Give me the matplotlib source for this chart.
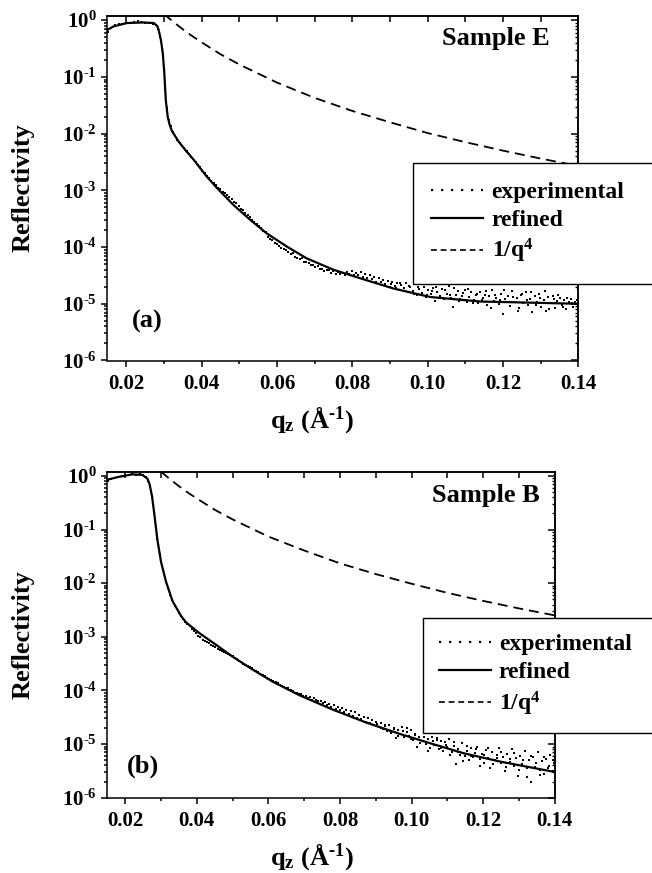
import numpy as np
import matplotlib
matplotlib.use("Agg")
import matplotlib.pyplot as plt
from matplotlib.lines import Line2D
from matplotlib.ticker import FixedLocator, FuncFormatter, FormatStrFormatter, NullFormatter, LogLocator

plt.rcParams['font.family'] = ['Liberation Serif', 'DejaVu Serif']
plt.rcParams['font.weight'] = 'bold'
plt.rcParams['mathtext.fontset'] = 'custom'
plt.rcParams['mathtext.rm'] = 'Liberation Serif:bold'
plt.rcParams['mathtext.bf'] = 'Liberation Serif:bold'
plt.rcParams['mathtext.it'] = 'Liberation Serif:bold:italic'
plt.rcParams['mathtext.default'] = 'bf'

# ---------------- data (log10 reflectivity) ----------------
# Sample E: refined model
refE_q = [0.0150, 0.0166, 0.0202, 0.0246, 0.0273, 0.0282, 0.0286, 0.0292, 0.0297, 0.0301,
          0.0305, 0.0310, 0.0315, 0.0321, 0.0339, 0.0357, 0.0379, 0.0414, 0.0441, 0.0485,
          0.0529, 0.0573, 0.0626, 0.0679, 0.0750, 0.0821, 0.0909, 0.1006, 0.1139, 0.1272, 0.1400]
refE_logR = [-0.17, -0.11, -0.05, -0.04, -0.05, -0.10, -0.17, -0.35, -0.58, -0.93,
             -1.41, -1.70, -1.84, -1.95, -2.14, -2.29, -2.46, -2.76, -2.96, -3.26,
             -3.52, -3.76, -3.99, -4.20, -4.40, -4.55, -4.73, -4.88, -4.96, -4.98, -5.00]

# Sample E: 1/q^4 reference
q4E_q = [0.0300, 0.0325, 0.0350, 0.0375, 0.040, 0.045, 0.050, 0.060, 0.070, 0.080, 0.090,
         0.100, 0.110, 0.120, 0.130, 0.140]
q4E_logR = [0.11, -0.03, -0.16, -0.28, -0.39, -0.60, -0.78, -1.10, -1.37, -1.60, -1.80,
            -1.99, -2.15, -2.30, -2.44, -2.57]

# Sample E: experimental points (q, log10 R)
expE_points = [
    (0.0152, -0.20), (0.0160, -0.13), (0.0170, -0.09), (0.0180, -0.07), (0.0190, -0.06),
    (0.0200, -0.05), (0.0210, -0.05), (0.0220, -0.04), (0.0230, -0.02), (0.0240, -0.04),
    (0.0250, -0.05), (0.0260, -0.05), (0.0270, -0.06), (0.0278, -0.08), (0.0285, -0.16),
    (0.0290, -0.30), (0.0295, -0.50), (0.0300, -0.82), (0.0304, -1.22), (0.0308, -1.55),
    (0.0313, -1.76), (0.0318, -1.86), (0.0324, -1.98), (0.0330, -2.04), (0.0336, -2.12),
    (0.0342, -2.17), (0.0348, -2.22), (0.0354, -2.26), (0.0360, -2.31), (0.0366, -2.36),
    (0.0372, -2.41), (0.0378, -2.45), (0.0384, -2.50), (0.0390, -2.55), (0.0396, -2.58),
    (0.0402, -2.66), (0.0408, -2.70), (0.0414, -2.74), (0.0420, -2.79), (0.0426, -2.83),
    (0.0432, -2.87), (0.0438, -2.90), (0.0444, -2.95), (0.0450, -2.97), (0.0456, -3.03),
    (0.0462, -3.05), (0.0468, -3.09), (0.0474, -3.12), (0.0480, -3.16), (0.0486, -3.21),
    (0.0492, -3.22), (0.0498, -3.28), (0.0504, -3.33), (0.0510, -3.35), (0.0516, -3.40),
    (0.0522, -3.44), (0.0528, -3.47), (0.0534, -3.53), (0.0540, -3.55), (0.0546, -3.60),
    (0.0552, -3.63), (0.0558, -3.67), (0.0564, -3.72), (0.0570, -3.73), (0.0576, -3.82),
    (0.0582, -3.86), (0.0588, -3.88), (0.0594, -3.93), (0.0600, -3.94), (0.0606, -3.99),
    (0.0612, -4.01), (0.0618, -4.04), (0.0624, -4.06), (0.0630, -4.08), (0.0636, -4.12),
    (0.0642, -4.11), (0.0648, -4.17), (0.0654, -4.19), (0.0660, -4.21), (0.0666, -4.20),
    (0.0672, -4.26), (0.0678, -4.27), (0.0684, -4.28), (0.0690, -4.31), (0.0696, -4.32),
    (0.0702, -4.36), (0.0708, -4.34), (0.0714, -4.39), (0.0720, -4.38), (0.0726, -4.42),
    (0.0732, -4.40), (0.0738, -4.41), (0.0744, -4.45), (0.0750, -4.43), (0.0756, -4.47),
    (0.0762, -4.44), (0.0768, -4.48), (0.0774, -4.46), (0.0780, -4.50), (0.0786, -4.44),
    (0.0792, -4.47), (0.0798, -4.43), (0.0804, -4.49), (0.0810, -4.45), (0.0816, -4.50),
    (0.0822, -4.44), (0.0828, -4.52), (0.0834, -4.48), (0.0840, -4.55), (0.0846, -4.50),
    (0.0852, -4.57), (0.0858, -4.53), (0.0864, -4.61), (0.0870, -4.55), (0.0876, -4.62),
    (0.0882, -4.58), (0.0888, -4.66), (0.0894, -4.60), (0.0900, -4.70), (0.0906, -4.62),
    (0.0912, -4.69), (0.0918, -4.64), (0.0924, -4.75), (0.0930, -4.67), (0.0936, -4.72),
    (0.0942, -4.63), (0.0948, -4.80), (0.0954, -4.70), (0.0960, -4.77), (0.0966, -4.66),
    (0.0972, -4.85), (0.0978, -4.74), (0.0984, -4.81), (0.0990, -4.70), (0.0996, -4.88),
    (0.1002, -4.76), (0.1008, -4.83), (0.1014, -4.72), (0.1020, -4.95), (0.1026, -4.80),
    (0.1032, -4.86), (0.1038, -4.74), (0.1044, -4.91), (0.1050, -4.82), (0.1056, -4.68),
    (0.1062, -4.89), (0.1068, -5.05), (0.1074, -4.84), (0.1080, -4.78), (0.1086, -4.92),
    (0.1092, -4.86), (0.1098, -4.75), (0.1104, -4.96), (0.1110, -4.88), (0.1116, -4.80),
    (0.1122, -4.93), (0.1128, -4.85), (0.1134, -4.98), (0.1140, -4.79), (0.1146, -4.90),
    (0.1152, -4.84), (0.1158, -5.02), (0.1164, -4.87), (0.1170, -4.76), (0.1176, -4.95),
    (0.1182, -4.89), (0.1188, -5.00), (0.1194, -4.83), (0.1200, -5.18), (0.1206, -4.92),
    (0.1212, -4.86), (0.1218, -5.04), (0.1224, -4.78), (0.1230, -4.96), (0.1236, -4.90),
    (0.1242, -5.08), (0.1248, -4.85), (0.1254, -4.99), (0.1260, -4.80), (0.1266, -5.02),
    (0.1272, -4.91), (0.1278, -5.14), (0.1284, -4.87), (0.1290, -4.97), (0.1296, -4.83),
    (0.1302, -5.05), (0.1308, -4.93), (0.1314, -5.13), (0.1320, -4.88), (0.1326, -4.99),
    (0.1332, -4.86), (0.1338, -5.07), (0.1344, -4.95), (0.1350, -4.90), (0.1356, -5.03),
    (0.1362, -4.94), (0.1368, -5.10), (0.1374, -4.97), (0.1380, -4.92), (0.1386, -5.05),
    (0.1392, -4.96), (0.1398, -5.01),
    (0.0903, -4.66), (0.0915, -4.72), (0.0927, -4.63), (0.0939, -4.78), (0.0951, -4.68),
    (0.0963, -4.82), (0.0975, -4.71), (0.0987, -4.64), (0.0999, -4.84), (0.1011, -4.77),
    (0.1023, -4.70), (0.1035, -4.90), (0.1047, -4.75), (0.1059, -4.84), (0.1071, -4.72),
    (0.1083, -4.95), (0.1095, -4.81), (0.1107, -4.74), (0.1119, -4.98), (0.1131, -4.82),
    (0.1143, -4.93), (0.1155, -4.77), (0.1167, -5.08), (0.1179, -4.84), (0.1191, -4.93),
    (0.1203, -4.75), (0.1215, -4.97), (0.1227, -4.88), (0.1239, -5.12), (0.1251, -4.82),
    (0.1263, -4.94), (0.1275, -4.79), (0.1287, -5.02), (0.1299, -4.89), (0.1311, -4.78),
    (0.1323, -5.10), (0.1335, -4.92), (0.1347, -4.84), (0.1359, -5.06), (0.1371, -4.90),
    (0.1383, -4.99), (0.1395, -4.93),
]

# Sample B: refined model
refB_q = [0.0150, 0.0180, 0.0220, 0.0248, 0.0262, 0.0268, 0.0275, 0.0281, 0.0290, 0.0300,
          0.0314, 0.0332, 0.0356, 0.0370, 0.0407, 0.0454, 0.0500, 0.0556, 0.0613, 0.0687,
          0.0781, 0.0874, 0.0967, 0.1050, 0.1145, 0.1250, 0.1400]
refB_logR = [-0.07, -0.02, 0.03, 0.02, -0.05, -0.15, -0.38, -0.69, -1.19, -1.60,
             -1.97, -2.33, -2.61, -2.73, -2.93, -3.15, -3.37, -3.61, -3.84, -4.09,
             -4.36, -4.60, -4.81, -4.98, -5.17, -5.33, -5.52]

# Sample B: 1/q^4 reference
q4B_q = [0.0300, 0.0325, 0.0350, 0.0375, 0.040, 0.045, 0.050, 0.060, 0.070, 0.080, 0.090,
         0.100, 0.110, 0.120, 0.130, 0.140]
q4B_logR = [0.08, -0.06, -0.19, -0.31, -0.42, -0.63, -0.81, -1.13, -1.39, -1.63, -1.83,
            -2.01, -2.18, -2.33, -2.47, -2.60]

# Sample B: experimental points (q, log10 R)
expB_points = [
    (0.0152, -0.10), (0.0160, -0.06), (0.0170, -0.04), (0.0180, -0.02), (0.0190, 0.00),
    (0.0200, 0.01), (0.0210, 0.02), (0.0220, 0.03), (0.0230, 0.02), (0.0240, 0.03),
    (0.0250, 0.01), (0.0258, -0.02), (0.0265, -0.10), (0.0272, -0.28), (0.0278, -0.55),
    (0.0284, -0.86), (0.0290, -1.18), (0.0296, -1.45), (0.0302, -1.66), (0.0308, -1.82),
    (0.0314, -1.97), (0.0320, -2.09), (0.0326, -2.22), (0.0332, -2.32), (0.0338, -2.42),
    (0.0344, -2.49), (0.0350, -2.56), (0.0356, -2.61), (0.0362, -2.67), (0.0368, -2.72),
    (0.0374, -2.76), (0.0380, -2.79), (0.0386, -2.85), (0.0392, -2.90), (0.0398, -2.93),
    (0.0404, -2.98), (0.0410, -3.00), (0.0416, -3.05), (0.0422, -3.07), (0.0428, -3.10),
    (0.0434, -3.11), (0.0440, -3.15), (0.0446, -3.17), (0.0452, -3.19), (0.0458, -3.22),
    (0.0464, -3.24), (0.0470, -3.26), (0.0476, -3.28), (0.0482, -3.30), (0.0488, -3.32),
    (0.0494, -3.34), (0.0500, -3.36), (0.0506, -3.39), (0.0512, -3.42), (0.0518, -3.45),
    (0.0524, -3.47), (0.0530, -3.50), (0.0536, -3.52), (0.0542, -3.55), (0.0548, -3.56),
    (0.0554, -3.59), (0.0560, -3.62), (0.0566, -3.63), (0.0572, -3.66), (0.0578, -3.69),
    (0.0584, -3.71), (0.0590, -3.73), (0.0596, -3.76), (0.0602, -3.78), (0.0608, -3.81),
    (0.0614, -3.83), (0.0620, -3.84), (0.0626, -3.87), (0.0632, -3.89), (0.0638, -3.91),
    (0.0644, -3.93), (0.0650, -3.96), (0.0656, -3.96), (0.0662, -4.00), (0.0668, -4.01),
    (0.0674, -4.05), (0.0680, -4.04), (0.0686, -4.07), (0.0692, -4.06), (0.0698, -4.11),
    (0.0704, -4.10), (0.0710, -4.15), (0.0716, -4.12), (0.0722, -4.17), (0.0728, -4.15),
    (0.0734, -4.18), (0.0740, -4.20), (0.0746, -4.19), (0.0752, -4.24), (0.0758, -4.22),
    (0.0764, -4.28), (0.0770, -4.25), (0.0776, -4.31), (0.0782, -4.27), (0.0788, -4.34),
    (0.0794, -4.30), (0.0800, -4.37), (0.0806, -4.33), (0.0812, -4.40), (0.0818, -4.36),
    (0.0824, -4.44), (0.0830, -4.39), (0.0836, -4.47), (0.0842, -4.41), (0.0848, -4.52),
    (0.0854, -4.45), (0.0860, -4.54), (0.0866, -4.49), (0.0872, -4.58), (0.0878, -4.51),
    (0.0884, -4.61), (0.0890, -4.55), (0.0896, -4.64), (0.0902, -4.58), (0.0908, -4.68),
    (0.0914, -4.60), (0.0920, -4.72), (0.0926, -4.64), (0.0932, -4.75), (0.0938, -4.65),
    (0.0944, -4.80), (0.0950, -4.70), (0.0956, -4.88), (0.0962, -4.74), (0.0968, -4.82),
    (0.0974, -4.69), (0.0980, -4.86), (0.0986, -4.77), (0.0992, -4.85), (0.0998, -4.73),
    (0.1004, -4.93), (0.1010, -4.81), (0.1016, -5.05), (0.1022, -4.86), (0.1028, -4.95),
    (0.1034, -4.78), (0.1040, -5.00), (0.1046, -4.90), (0.1052, -5.08), (0.1058, -4.87),
    (0.1064, -5.02), (0.1070, -4.93), (0.1076, -5.10), (0.1082, -4.95), (0.1088, -5.13),
    (0.1094, -4.97), (0.1100, -5.06), (0.1106, -4.90), (0.1112, -5.15), (0.1118, -5.04),
    (0.1124, -5.38), (0.1130, -5.10), (0.1136, -5.20), (0.1142, -4.98), (0.1148, -5.22),
    (0.1154, -5.12), (0.1160, -5.30), (0.1166, -5.08), (0.1172, -5.24), (0.1178, -5.16),
    (0.1184, -5.05), (0.1190, -5.28), (0.1196, -5.18), (0.1202, -5.35), (0.1208, -5.11),
    (0.1214, -5.26), (0.1220, -5.45), (0.1226, -5.15), (0.1232, -5.30), (0.1238, -5.20),
    (0.1244, -5.08), (0.1250, -5.36), (0.1256, -5.24), (0.1262, -5.50), (0.1268, -5.18),
    (0.1274, -5.33), (0.1280, -5.10), (0.1286, -5.40), (0.1292, -5.26), (0.1298, -5.60),
    (0.1304, -5.22), (0.1310, -5.38), (0.1316, -5.12), (0.1322, -5.44), (0.1328, -5.30),
    (0.1334, -5.70), (0.1340, -5.25), (0.1346, -5.42), (0.1352, -5.15), (0.1358, -5.48),
    (0.1364, -5.32), (0.1370, -5.55), (0.1376, -5.28), (0.1382, -5.45), (0.1388, -5.20),
    (0.1394, -5.50), (0.1398, -5.35),
    (0.0903, -4.62), (0.0915, -4.70), (0.0927, -4.66), (0.0939, -4.76), (0.0951, -4.72),
    (0.0963, -4.85), (0.0975, -4.76), (0.0987, -4.70), (0.0999, -4.90), (0.1011, -4.84),
    (0.1023, -4.98), (0.1035, -4.86), (0.1047, -5.12), (0.1059, -4.95), (0.1071, -4.88),
    (0.1083, -5.08), (0.1095, -5.02), (0.1107, -5.20), (0.1119, -4.96), (0.1131, -5.15),
    (0.1143, -5.32), (0.1155, -5.04), (0.1167, -5.22), (0.1179, -5.10), (0.1191, -5.40),
    (0.1203, -5.20), (0.1215, -5.08), (0.1227, -5.38), (0.1239, -5.26), (0.1251, -5.14),
    (0.1263, -5.42), (0.1275, -5.28), (0.1287, -5.16), (0.1299, -5.48), (0.1311, -5.30),
    (0.1323, -5.62), (0.1335, -5.22), (0.1347, -5.36), (0.1359, -5.58), (0.1371, -5.25),
    (0.1383, -5.40), (0.1395, -5.30),
]

legend_labels = ['experimental', 'refined', r'1/q$^{4}$']
x_major = [0.02, 0.04, 0.06, 0.08, 0.10, 0.12, 0.14]
x_minor = [0.03, 0.05, 0.07, 0.09, 0.11, 0.13]

# ---------------- figure ----------------
W, H = 652, 873
fig = plt.figure(figsize=(W / 100, H / 100), dpi=100)


def px_rect(l, t, r, b):
    return [l / W, 1 - b / H, (r - l) / W, (b - t) / H]


def style_axes(ax):
    ax.set_xscale('linear')
    ax.set_yscale('log')
    ax.set_xlim(0.015, 0.14)
    ax.set_ylim(1e-6, 1.2)
    for s in ax.spines.values():
        s.set_linewidth(1.1)
    ax.xaxis.set_major_locator(FixedLocator(x_major))
    ax.xaxis.set_minor_locator(FixedLocator(x_minor))
    ax.xaxis.set_major_formatter(FormatStrFormatter('%.2f'))
    ax.yaxis.set_major_locator(LogLocator(base=10, numticks=20))
    ax.yaxis.set_minor_locator(LogLocator(base=10, subs=np.arange(2, 10), numticks=20))
    ax.yaxis.set_major_formatter(FuncFormatter(
        lambda v, p: r'$10^{\text{%d}}$' % int(round(np.log10(v)))))
    ax.yaxis.set_minor_formatter(NullFormatter())
    ax.tick_params(which='both', top=False, right=False, direction='out', width=1.1)
    ax.tick_params(which='major', length=4.5, labelsize=15, pad=3)
    ax.tick_params(which='minor', length=2.5)
    ax.tick_params(axis='x', which='major', pad=5)
    # mirrored axes with inward ticks
    top = ax.secondary_xaxis('top')
    top.xaxis.set_major_locator(FixedLocator(x_major))
    top.xaxis.set_minor_locator(FixedLocator(x_minor))
    top.tick_params(which='both', direction='in', length=4, width=1.1, labeltop=False)
    top.xaxis.set_major_formatter(NullFormatter())
    top.spines['top'].set_linewidth(1.1)
    right = ax.secondary_yaxis('right')
    right.yaxis.set_major_locator(LogLocator(base=10, numticks=20))
    right.yaxis.set_minor_locator(LogLocator(base=10, subs=np.arange(2, 10), numticks=20))
    right.tick_params(which='major', direction='in', length=5, width=1.1, labelright=False)
    right.tick_params(which='minor', direction='in', length=2.5, width=1.0, labelright=False)
    right.yaxis.set_major_formatter(NullFormatter())
    right.yaxis.set_minor_formatter(NullFormatter())
    right.spines['right'].set_linewidth(1.1)


def draw_panel(rect, exp_points, ref_q, ref_logR, q4_q, q4_logR):
    ax = fig.add_axes(rect)
    style_axes(ax)
    eq = [p[0] for p in exp_points]
    eR = [10 ** p[1] for p in exp_points]
    ax.plot(eq, eR, linestyle='none', marker='s', markersize=1.95, markeredgewidth=0,
            color='black', zorder=2)
    ax.plot(ref_q, [10 ** v for v in ref_logR], color='black', lw=1.6, zorder=3)
    ln, = ax.plot(q4_q, [10 ** v for v in q4_logR], color='black', lw=1.3, zorder=3)
    ln.set_dashes((5.5, 3.3))
    return ax


axE = draw_panel(px_rect(107.4, 15.7, 578.4, 360.5), expE_points, refE_q, refE_logR, q4E_q, q4E_logR)
axB = draw_panel(px_rect(107.3, 471.7, 554.7, 797.7), expB_points, refB_q, refB_logR, q4B_q, q4B_logR)


def add_legend(left_px, top_px, height_px, bpad):
    h_exp = Line2D([], [], color='black', lw=1.6, linestyle=(0, (1, 3.5)))
    h_ref = Line2D([], [], color='black', lw=1.6)
    h_q4 = Line2D([], [], color='black', lw=1.2, linestyle=(0, (3.5, 2.3)))
    leg = fig.legend([h_exp, h_ref, h_q4], legend_labels, loc='upper left',
                     bbox_to_anchor=(left_px / W, 1 - (top_px + height_px) / H, 300 / W, height_px / H),
                     mode='expand', borderaxespad=0, fontsize=17, frameon=True, fancybox=False,
                     edgecolor='black', framealpha=1, borderpad=bpad, handlelength=2.2,
                     handletextpad=0.35, labelspacing=0.27)
    leg.get_frame().set_linewidth(1.0)
    return leg


add_legend(413, 163, 120, 0.78)
add_legend(423, 618, 114, 0.66)

txt = dict(fontsize=19, fontweight='bold', color='black')
fig.text(550 / W, 1 - 45 / H, 'Sample E', ha='right', va='baseline', **txt)
fig.text(540 / W, 1 - 501.7 / H, 'Sample B', ha='right', va='baseline', **txt)
fig.text(131.7 / W, 1 - 328 / H, '(a)', ha='left', va='baseline', **txt)
fig.text(126.7 / W, 1 - 773 / H, '(b)', ha='left', va='baseline', **txt)

lab = dict(fontsize=19, fontweight='bold', color='black')
fig.text(23 / W, 1 - 188 / H, 'Reflectivity', rotation=90, ha='center', va='center', **lab)
fig.text(23 / W, 1 - 634.7 / H, 'Reflectivity', rotation=90, ha='center', va='center', **lab)
xlab = r'$q_z\ (\AA^{\text{-1}})$'
fig.text(312 / W, 1 - 420 / H, xlab, ha='center', va='center', **lab)
fig.text(312 / W, 1 - 857 / H, xlab, ha='center', va='center', **lab)

fig.savefig('out.png', dpi=100)
